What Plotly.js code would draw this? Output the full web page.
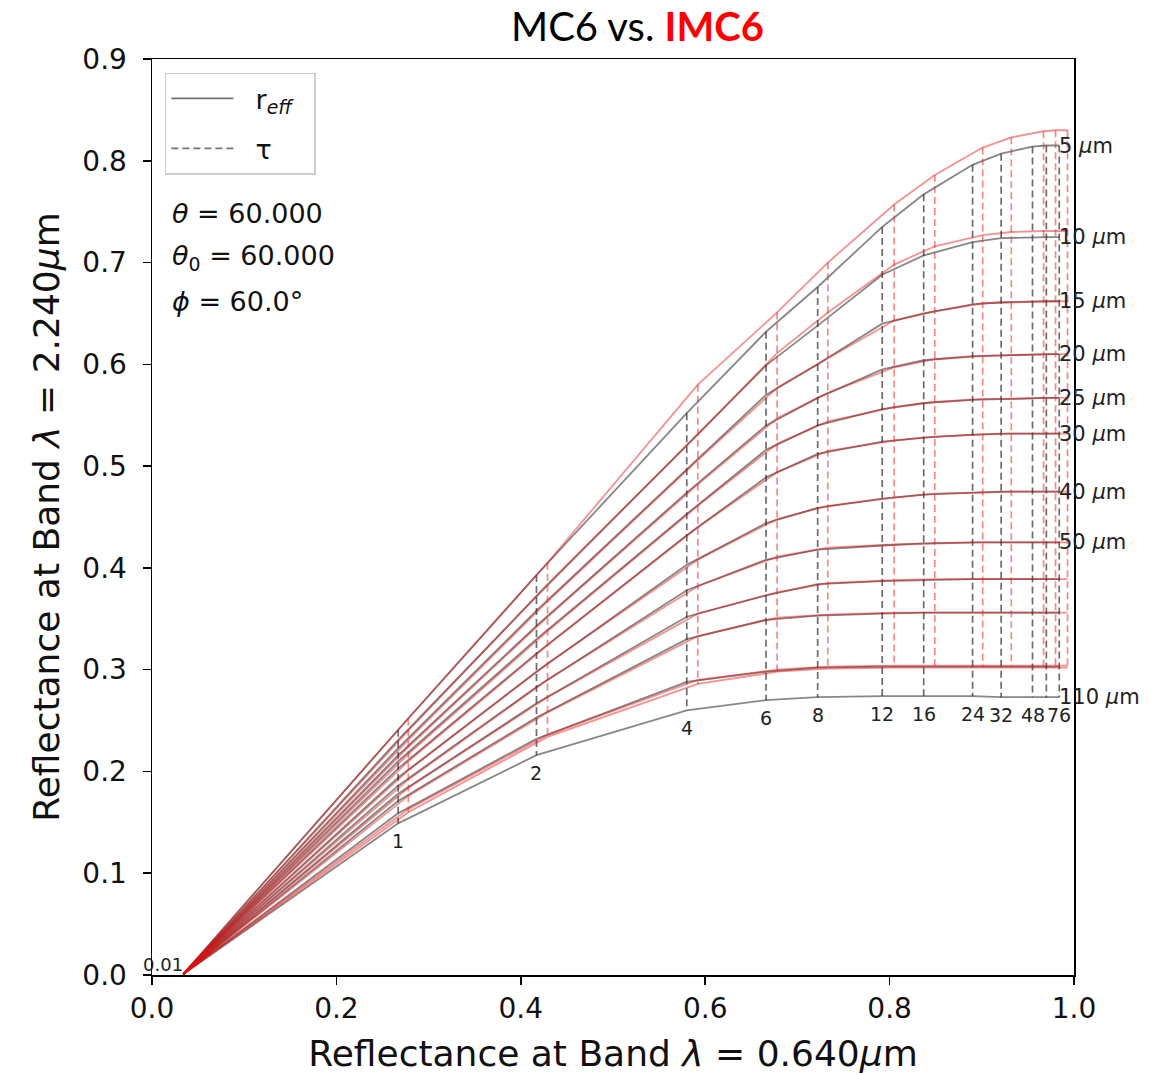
<!DOCTYPE html>
<html>
<head>
<meta charset="utf-8">
<script src="https://cdn.plot.ly/plotly-3.0.1.min.js"></script>
<style>html,body{margin:0;padding:0;background:#fff;}#chart{width:1165px;height:1075px;}</style>
</head>
<body>
<div id="chart"></div>
<script>
// Optical thickness values (columns) and their labels
const tauValues = [0.01, 1, 2, 4, 6, 8, 12, 16, 24, 32, 48, 64, 76];
const tauLabels = ["0.01", "1", "2", "4", "6", "8", "12", "16", "24", "32", "48", "", "76"];
// Effective radius values (rows) and their labels
const reffValues = [5, 10, 15, 20, 25, 30, 40, 50, 60, 70, 80, 110];
const reffLabels = ["5 <i>μ</i>m", "10 <i>μ</i>m", "15 <i>μ</i>m", "20 <i>μ</i>m", "25 <i>μ</i>m", "30 <i>μ</i>m",
                    "40 <i>μ</i>m", "50 <i>μ</i>m", "", "", "", "110 <i>μ</i>m"];

// MC6 (grey): reflectance at 0.640 µm for each tau
const xMC6 = [0.034, 0.267, 0.417, 0.580, 0.666, 0.722, 0.792, 0.837, 0.890, 0.921, 0.955, 0.970, 0.984];
// MC6: reflectance at 2.240 µm, rows = reff, columns = tau
const yMC6_5   = [0.001, 0.241, 0.393, 0.552, 0.632, 0.676, 0.735, 0.767, 0.796, 0.807, 0.814, 0.815, 0.815];
const yMC6_10  = [0.001, 0.231, 0.372, 0.520, 0.599, 0.638, 0.688, 0.707, 0.720, 0.724, 0.725, 0.725, 0.725];
const yMC6_15  = [0.001, 0.223, 0.358, 0.497, 0.570, 0.600, 0.640, 0.650, 0.659, 0.661, 0.662, 0.662, 0.662];
const yMC6_20  = [0.001, 0.216, 0.343, 0.474, 0.540, 0.567, 0.595, 0.604, 0.608, 0.609, 0.610, 0.610, 0.610];
const yMC6_25  = [0.001, 0.210, 0.330, 0.453, 0.516, 0.540, 0.556, 0.562, 0.565, 0.566, 0.567, 0.567, 0.567];
const yMC6_30  = [0.001, 0.203, 0.316, 0.432, 0.489, 0.512, 0.524, 0.528, 0.531, 0.532, 0.532, 0.532, 0.532];
const yMC6_40  = [0.001, 0.194, 0.298, 0.403, 0.444, 0.459, 0.468, 0.472, 0.474, 0.475, 0.475, 0.475, 0.475];
const yMC6_50  = [0.001, 0.186, 0.283, 0.378, 0.408, 0.418, 0.422, 0.424, 0.425, 0.425, 0.425, 0.425, 0.425];
const yMC6_60  = [0.001, 0.178, 0.267, 0.352, 0.373, 0.384, 0.387, 0.388, 0.389, 0.389, 0.389, 0.389, 0.389];
const yMC6_70  = [0.001, 0.171, 0.253, 0.330, 0.349, 0.353, 0.355, 0.356, 0.356, 0.356, 0.356, 0.356, 0.356];
const yMC6_80  = [0.001, 0.159, 0.232, 0.288, 0.298, 0.302, 0.303, 0.303, 0.303, 0.303, 0.303, 0.303, 0.303];
const yMC6_110 = [0.001, 0.149, 0.216, 0.260, 0.270, 0.273, 0.274, 0.274, 0.274, 0.273, 0.273, 0.273, 0.273];

// IMC6 (red)
const xIMC6 = [0.034, 0.278, 0.429, 0.592, 0.678, 0.733, 0.805, 0.849, 0.901, 0.932, 0.967, 0.980, 0.993];
const yIMC6_5   = [0.001, 0.252, 0.405, 0.580, 0.651, 0.700, 0.757, 0.786, 0.813, 0.823, 0.829, 0.830, 0.830];
const yIMC6_10  = [0.001, 0.240, 0.384, 0.531, 0.611, 0.651, 0.698, 0.716, 0.727, 0.730, 0.731, 0.731, 0.731];
const yIMC6_15  = [0.001, 0.231, 0.367, 0.506, 0.577, 0.606, 0.643, 0.652, 0.660, 0.661, 0.662, 0.662, 0.662];
const yIMC6_20  = [0.001, 0.224, 0.352, 0.482, 0.547, 0.572, 0.597, 0.605, 0.608, 0.609, 0.610, 0.610, 0.610];
const yIMC6_25  = [0.001, 0.217, 0.338, 0.461, 0.522, 0.544, 0.558, 0.563, 0.566, 0.566, 0.567, 0.567, 0.567];
const yIMC6_30  = [0.001, 0.210, 0.324, 0.440, 0.494, 0.515, 0.525, 0.529, 0.531, 0.532, 0.532, 0.532, 0.532];
const yIMC6_40  = [0.001, 0.201, 0.306, 0.408, 0.448, 0.461, 0.469, 0.473, 0.474, 0.475, 0.475, 0.475, 0.475];
const yIMC6_50  = [0.001, 0.192, 0.290, 0.382, 0.411, 0.420, 0.423, 0.424, 0.425, 0.425, 0.425, 0.425, 0.425];
const yIMC6_60  = [0.001, 0.184, 0.273, 0.355, 0.376, 0.385, 0.388, 0.389, 0.389, 0.389, 0.389, 0.389, 0.389];
const yIMC6_70  = [0.001, 0.176, 0.258, 0.333, 0.351, 0.354, 0.356, 0.356, 0.356, 0.356, 0.356, 0.356, 0.356];
const yIMC6_80  = [0.001, 0.163, 0.236, 0.290, 0.300, 0.303, 0.304, 0.304, 0.304, 0.304, 0.304, 0.304, 0.304];
const yIMC6_110 = [0.001, 0.160, 0.234, 0.286, 0.298, 0.301, 0.302, 0.302, 0.302, 0.302, 0.302, 0.302, 0.302];

const gridMC6 = [yMC6_5, yMC6_10, yMC6_15, yMC6_20, yMC6_25, yMC6_30, yMC6_40, yMC6_50, yMC6_60, yMC6_70, yMC6_80, yMC6_110];
const gridIMC6 = [yIMC6_5, yIMC6_10, yIMC6_15, yIMC6_20, yIMC6_25, yIMC6_30, yIMC6_40, yIMC6_50, yIMC6_60, yIMC6_70, yIMC6_80, yIMC6_110];

const FONT = "DejaVu Sans, sans-serif";
const greySolid = "rgba(70,70,70,0.65)";
const greyDash = "rgba(45,45,45,0.7)";
const redSolid = "rgba(235,10,10,0.45)";
const redDash = "rgba(235,40,40,0.55)";
const DASH = "7px,4px";

const traces = [];
function addSet(xs, grid, solidColor, dashColor, name) {
  grid.forEach((row, i) => {
    traces.push({x: xs, y: row, type: "scatter", mode: "lines", showlegend: false, hoverinfo: "skip",
      name: name + " r_eff=" + reffValues[i], line: {color: solidColor, width: 1.8}});
  });
  tauValues.forEach((t, j) => {
    if (j === 0) return;
    traces.push({x: grid.map(() => xs[j]), y: grid.map(r => r[j]), type: "scatter", mode: "lines",
      showlegend: false, hoverinfo: "skip", name: name + " tau=" + t,
      line: {color: dashColor, width: 1.7, dash: DASH}});
  });
}
addSet(xMC6, gridMC6, greySolid, greyDash, "MC6");
addSet(xIMC6, gridIMC6, redSolid, redDash, "IMC6");

// legend entries
traces.push({x: [null], y: [null], type: "scatter", mode: "lines", name: "\u00a0\u00a0r<sub><i>eff</i></sub>\u00a0\u00a0",
  legendgroup: "a", line: {color: "rgba(80,80,80,0.8)", width: 1.7}, showlegend: true});
traces.push({x: [null], y: [null], type: "scatter", mode: "lines", name: "\u00a0\u00a0τ",
  legendgroup: "b", line: {color: "rgba(80,80,80,0.8)", width: 1.7, dash: DASH}, showlegend: true});

const annotations = [];
// r_eff labels at the end of MC6 curves
gridMC6.forEach((row, i) => {
  if (!reffLabels[i]) return;
  annotations.push({x: xMC6[xMC6.length - 1], y: row[row.length - 1], xref: "x", yref: "y",
    text: reffLabels[i], showarrow: false, xanchor: "left", yanchor: "middle", xshift: -2,
    font: {family: FONT, size: 21, color: "#222"}});
});
// tau labels below MC6 110 µm curve
const bottom = gridMC6[gridMC6.length - 1];
tauValues.forEach((t, j) => {
  if (!tauLabels[j]) return;
  if (j === 0) {
    annotations.push({x: xMC6[j], y: bottom[j], xref: "x", yref: "y", text: tauLabels[j], showarrow: false,
      xanchor: "right", yanchor: "bottom", xshift: 2, yshift: -3, font: {family: FONT, size: 18, color: "#222"}});
  } else {
    annotations.push({x: xMC6[j], y: bottom[j], xref: "x", yref: "y", text: tauLabels[j], showarrow: false,
      xanchor: "center", yanchor: "top", yshift: -5, font: {family: FONT, size: 19, color: "#222"}});
  }
});
// angle info
const infoLines = ["<i>θ</i> = 60.000", "<i>θ</i><sub>0</sub> = 60.000", "<i>ϕ</i> = 60.0°"];
const infoY = [0.831, 0.783, 0.735];
infoLines.forEach((t, k) => {
  annotations.push({x: 0.019, y: infoY[k], xref: "paper", yref: "paper", text: t, showarrow: false,
    xanchor: "left", yanchor: "middle", font: {family: FONT, size: 27, color: "#111"}});
});
// title
annotations.push({x: 0.527, y: 1.0355, xref: "paper", yref: "paper", showarrow: false,
  text: "MC6 vs. <b><span style='color:#ff0000'>IMC6</span></b>", xanchor: "center", yanchor: "middle",
  font: {family: "Lato, Open Sans, sans-serif", size: 40, color: "#000"}});

const layout = {
  width: 1165, height: 1075,
  margin: {l: 152, r: 91, t: 59, b: 100},
  paper_bgcolor: "#fff", plot_bgcolor: "#fff",
  font: {family: FONT, color: "#111"},
  xaxis: {range: [0, 1], tickvals: [0, 0.2, 0.4, 0.6, 0.8, 1.0], tickformat: ".1f",
    showgrid: false, zeroline: false, showline: true, mirror: true, linecolor: "#000", linewidth: 1.5,
    ticks: "outside", ticklen: 8, tickwidth: 1.5, tickcolor: "#000",
    tickfont: {family: FONT, size: 28, color: "#111"},
    title: {text: "Reflectance at Band <i>λ</i> = 0.640<i>μ</i>m", font: {family: FONT, size: 36, color: "#111"}, standoff: 16}},
  yaxis: {range: [0, 0.9], tickvals: [0, 0.1, 0.2, 0.3, 0.4, 0.5, 0.6, 0.7, 0.8, 0.9], tickformat: ".1f",
    showgrid: false, zeroline: false, showline: true, mirror: true, linecolor: "#000", linewidth: 1.5,
    ticks: "outside", ticklen: 8, tickwidth: 1.5, tickcolor: "#000", ticklabelstandoff: 10,
    tickfont: {family: FONT, size: 28, color: "#111"},
    title: {text: "Reflectance at Band <i>λ</i> = 2.240<i>μ</i>m", font: {family: FONT, size: 36, color: "#111"}, standoff: 12}},
  legend: {x: 0.014, y: 0.985, xanchor: "left", yanchor: "top", bgcolor: "#fff",
    bordercolor: "#cccccc", borderwidth: 1.5, font: {family: FONT, size: 27, color: "#111"},
    itemwidth: 62, tracegroupgap: 12, traceorder: "grouped"},
  annotations: annotations,
  showlegend: true
};
Plotly.newPlot("chart", traces, layout, {displayModeBar: false, staticPlot: true});
</script>
</body>
</html>
